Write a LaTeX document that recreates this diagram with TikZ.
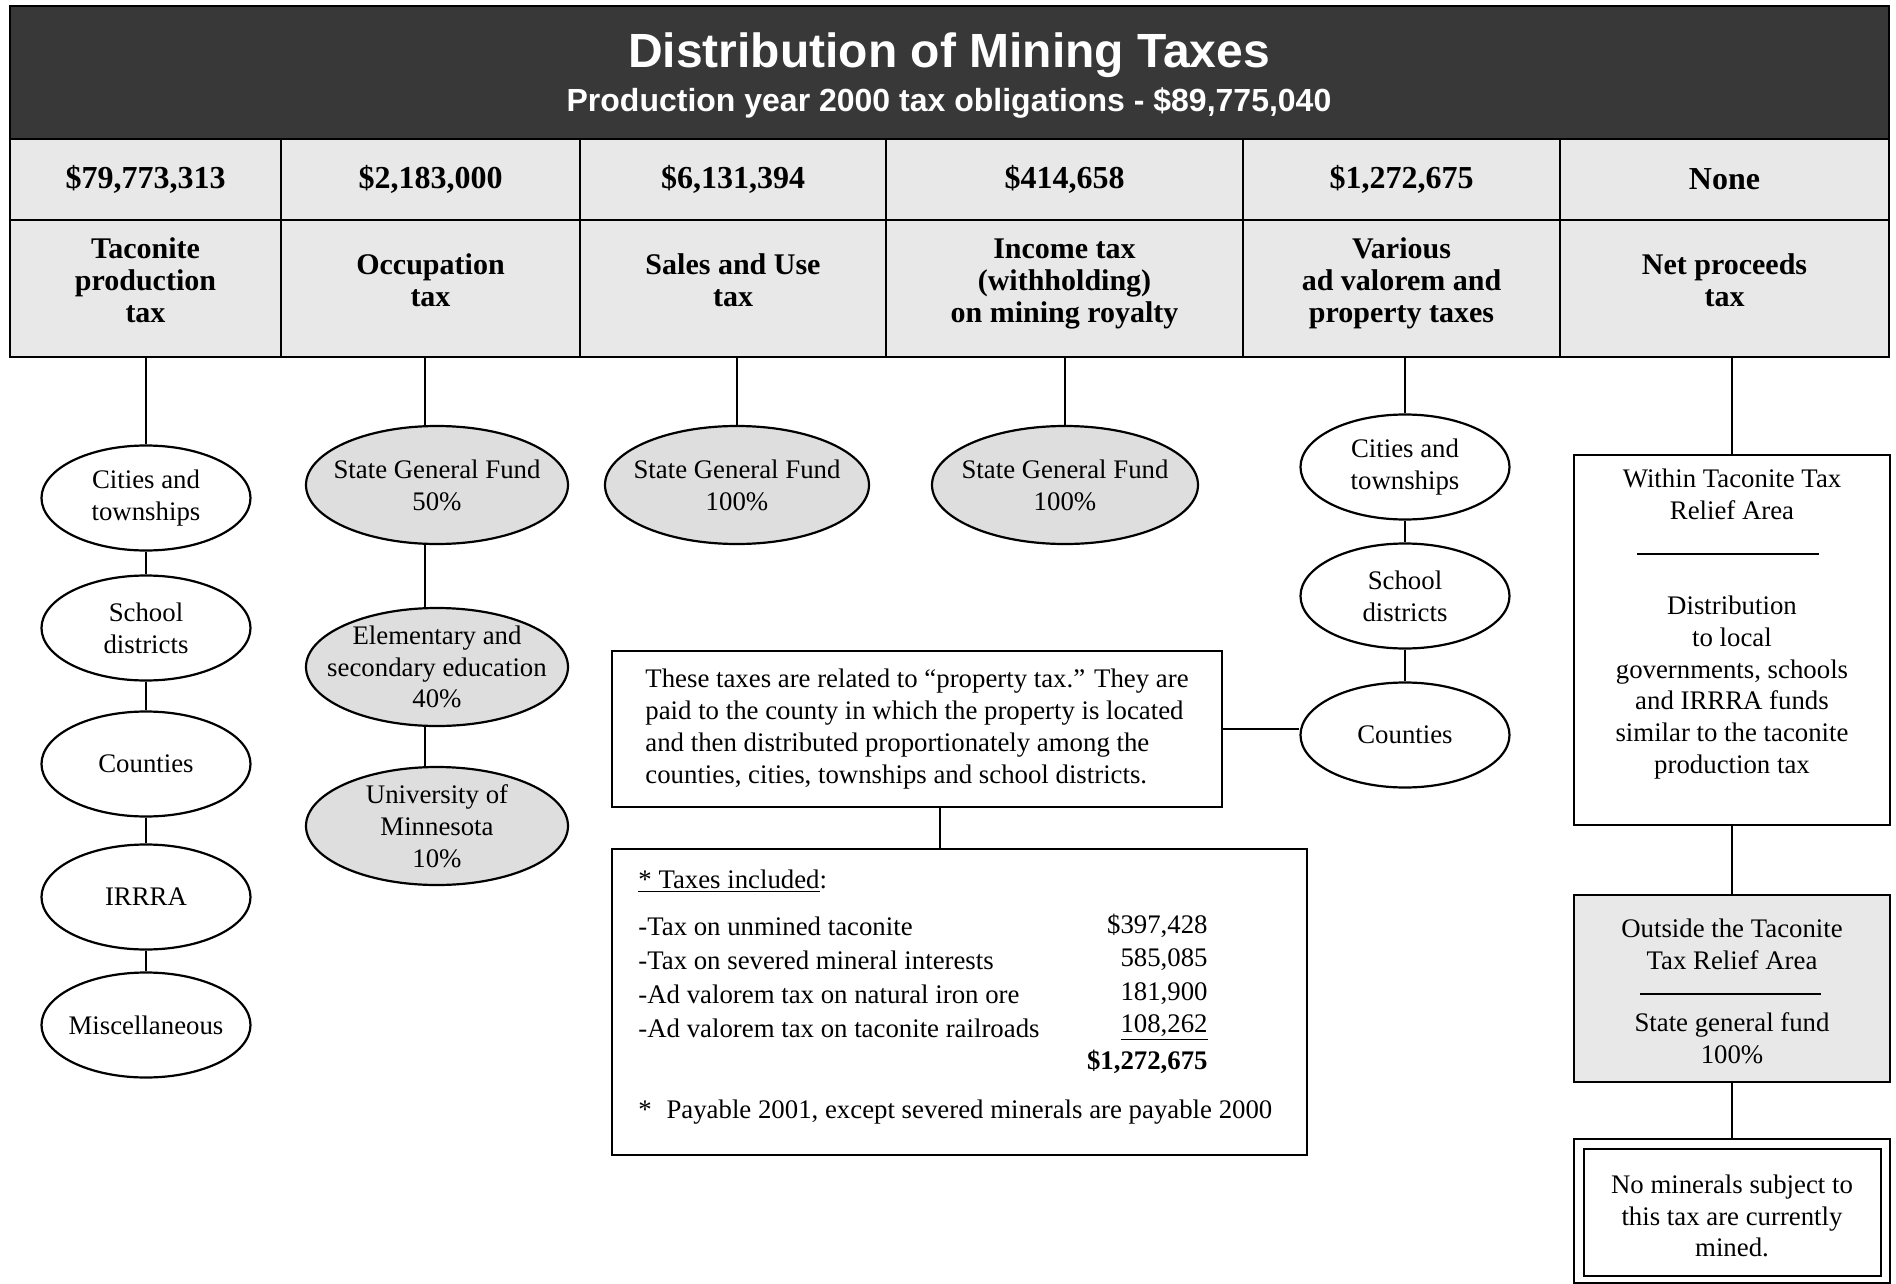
\documentclass[tikz,border=0pt]{standalone}
\usepackage{fontspec}
\setmainfont{Liberation Serif}
\newfontfamily\titlefont{Liberation Sans}
\usetikzlibrary{shapes.geometric}
\definecolor{hdrdark}{gray}{0.22}
\definecolor{cellgray}{gray}{0.91}
\definecolor{ellgray}{gray}{0.87}
\tikzset{
  amtcell/.style={draw, line width=1.3pt, fill=cellgray, inner sep=0pt, minimum height=40.5pt, align=center, font=\bfseries\fontsize{16}{16}\selectfont},
  namecell/.style={amtcell, minimum height=68.5pt, text depth=8pt, font=\bfseries\fontsize{15}{16}\selectfont},
  ell/.style={ellipse, draw, line width=1.1pt, fill=white, inner sep=-20pt, align=center, font=\fontsize{13.4}{15.9}\selectfont},
  ellsmall/.style={ell, minimum width=104.5pt, minimum height=52.5pt},
  ellbig/.style={ell, fill=ellgray, minimum width=131pt, minimum height=59pt},
  boxnode/.style={draw, line width=1.2pt, inner sep=0pt, fill=white},
  body/.style={inner sep=0pt, align=center, font=\fontsize{13.4}{15.9}\selectfont},
  row/.style={inner sep=0pt, font=\fontsize{13.4}{15.9}\selectfont},
  conn/.style={line width=1.2pt},
}
\begin{document}
\begin{tikzpicture}[x=0.5pt,y=-0.5pt]
\fill[white] (0,0) rectangle (1896,1284);
\useasboundingbox (0,0) rectangle (1896,1284);
% header band
\node[fill=hdrdark, draw=black, line width=1pt, minimum width=939.5pt, minimum height=66.5pt, inner sep=0pt] (hdr) at (949.5,72.5) {};
\node[text=white, inner sep=0pt, font=\titlefont\bfseries\fontsize{24}{28}\selectfont] (title) at (949,55) {Distribution of Mining Taxes};
\node[text=white, inner sep=0pt, font=\titlefont\bfseries\fontsize{16}{19}\selectfont] (subtitle) at (949,103) {Production year 2000 tax obligations - \$89,775,040};
% amount row
\node[amtcell, minimum width=135.5pt] (a1) at (145.5,179.5) {\$79,773,313};
\node[amtcell, minimum width=149.5pt] (a2) at (430.5,179.5) {\$2,183,000};
\node[amtcell, minimum width=153pt] (a3) at (733,179.5) {\$6,131,394};
\node[amtcell, minimum width=178.5pt] (a4) at (1064.5,179.5) {\$414,658};
\node[amtcell, minimum width=158.5pt] (a5) at (1401.5,179.5) {\$1,272,675};
\node[amtcell, minimum width=164.5pt] (a6) at (1724.5,179.5) {None};
% name row
\node[namecell, minimum width=135.5pt] (n1) at (145.5,288.5) {Taconite\\production\\tax};
\node[namecell, minimum width=149.5pt] (n2) at (430.5,288.5) {Occupation\\tax};
\node[namecell, minimum width=153pt] (n3) at (733,288.5) {Sales and Use\\tax};
\node[namecell, minimum width=178.5pt] (n4) at (1064.5,288.5) {Income tax\\(withholding)\\on mining royalty};
\node[namecell, minimum width=158.5pt] (n5) at (1401.5,288.5) {Various\\ad valorem and\\property taxes};
\node[namecell, minimum width=164.5pt] (n6) at (1724.5,288.5) {Net proceeds\\tax};
% column 1
\node[ellsmall] (e1a) at (146,498) {Cities and\\townships};
\node[ellsmall] (e1b) at (146,628) {School\\districts};
\node[ellsmall] (e1c) at (146,764) {Counties};
\node[ellsmall] (e1d) at (146,897) {IRRRA};
\node[ellsmall] (e1e) at (146,1025) {Miscellaneous};
\draw[conn] (e1a.north) -- (e1a.north |- n1.south);
\draw[conn] (e1a.south) -- (e1b.north);
\draw[conn] (e1b.south) -- (e1c.north);
\draw[conn] (e1c.south) -- (e1d.north);
\draw[conn] (e1d.south) -- (e1e.north);
% column 2
\node[ellbig] (e2a) at (437,485) {State General Fund\\50\%};
\node[ellbig] (e2b) at (437,667) {Elementary and\\secondary education\\40\%};
\node[ellbig] (e2c) at (437,826) {University of\\Minnesota\\10\%};
\draw[conn] ([xshift=-6pt]e2a.north) -- ([xshift=-6pt]e2a.north |- n2.south);
\draw[conn] ([xshift=-6pt]e2a.south) -- ([xshift=-6pt]e2b.north);
\draw[conn] ([xshift=-6pt]e2b.south) -- ([xshift=-6pt]e2c.north);
% column 3 and 4
\node[ellbig, minimum width=132pt] (e3) at (737,485) {State General Fund\\100\%};
\node[ellbig, minimum width=133pt] (e4) at (1065,485) {State General Fund\\100\%};
\draw[conn] (e3.north) -- (e3.north |- n3.south);
\draw[conn] (e4.north) -- (e4.north |- n4.south);
% column 5
\node[ellsmall] (e5a) at (1405,467) {Cities and\\townships};
\node[ellsmall] (e5b) at (1405,596) {School\\districts};
\node[ellsmall] (e5c) at (1405,735) {Counties};
\draw[conn] (e5a.north) -- (e5a.north |- n5.south);
\draw[conn] (e5a.south) -- (e5b.north);
\draw[conn] (e5b.south) -- (e5c.north);
% property tax note
\node[boxnode, minimum width=305pt, minimum height=78pt, align=left, font=\fontsize{13.4}{15.9}\selectfont] (prop) at (917,729) {These taxes are related to “property tax.” They are\\paid to the county in which the property is located\\and then distributed proportionately among the\\counties, cities, townships and school districts.};
\draw[conn] (prop.east) -- (prop.east -| e5c.west);
% taxes included box
\node[boxnode, minimum width=347.5pt, minimum height=153pt] (taxes) at (959.5,1002) {};
\draw[conn] ([xshift=11.5pt]prop.south) -- ([xshift=11.5pt]prop.south |- taxes.north);
\node[row, anchor=west] (t0) at (638,881) {\underline{* Taxes included}:};
\node[row, anchor=west] (t1) at (638,926) {-Tax on unmined taconite};
\node[row, anchor=west] (t2) at (638,960) {-Tax on severed mineral interests};
\node[row, anchor=west] (t3) at (638,994) {-Ad valorem tax on natural iron ore};
\node[row, anchor=west] (t4) at (638,1028) {-Ad valorem tax on taconite railroads};
\node[row, anchor=east] (v1) at (1208,926) {\$397,428};
\node[row, anchor=east] (v2) at (1208,960) {585,085};
\node[row, anchor=east] (v3) at (1208,994) {181,900};
\node[row, anchor=east] (v4) at (1208,1028) {\underline{108,262}};
\node[row, anchor=east, font=\bfseries\fontsize{13.4}{15.9}\selectfont] (v5) at (1208,1062) {\$1,272,675};
\node[row, anchor=west] (t5) at (638,1112) {*\hspace{0.55em}Payable 2001, except severed minerals are payable 2000};
% column 6
\node[boxnode, minimum width=158pt, minimum height=185pt] (b6a) at (1732,640) {};
\node[body] (b6at) at (1732,494.5) {Within Taconite Tax\\Relief Area};
\draw[line width=0.7pt] (1637,554) -- (1819,554);
\node[body] (b6ab) at (1732,687.5) {Distribution\\to local\\governments, schools\\and IRRRA funds\\similar to the taconite\\production tax};
\node[boxnode, fill=cellgray, minimum width=158pt, minimum height=93.5pt] (b6b) at (1732,988.5) {};
\node[body] (b6bt) at (1732,944.5) {Outside the Taconite\\Tax Relief Area};
\draw[line width=0.7pt] (1640,994) -- (1821,994);
\node[body] (b6bb) at (1732,1038.5) {State general fund\\100\%};
\node[boxnode, minimum width=158pt, minimum height=72pt] (b6c) at (1732,1211) {};
\node[draw, line width=1pt, inner sep=0pt, minimum width=148.5pt, minimum height=63.5pt] (b6ci) at (1732.5,1212.5) {};
\node[body] (b6ct) at (1732,1216) {No minerals subject to\\this tax are currently\\mined.};
\draw[conn] (b6a.north) -- (b6a.north |- n6.south);
\draw[conn] (b6a.south) -- (b6b.north);
\draw[conn] (b6b.south) -- (b6c.north);
\end{tikzpicture}
\end{document}
